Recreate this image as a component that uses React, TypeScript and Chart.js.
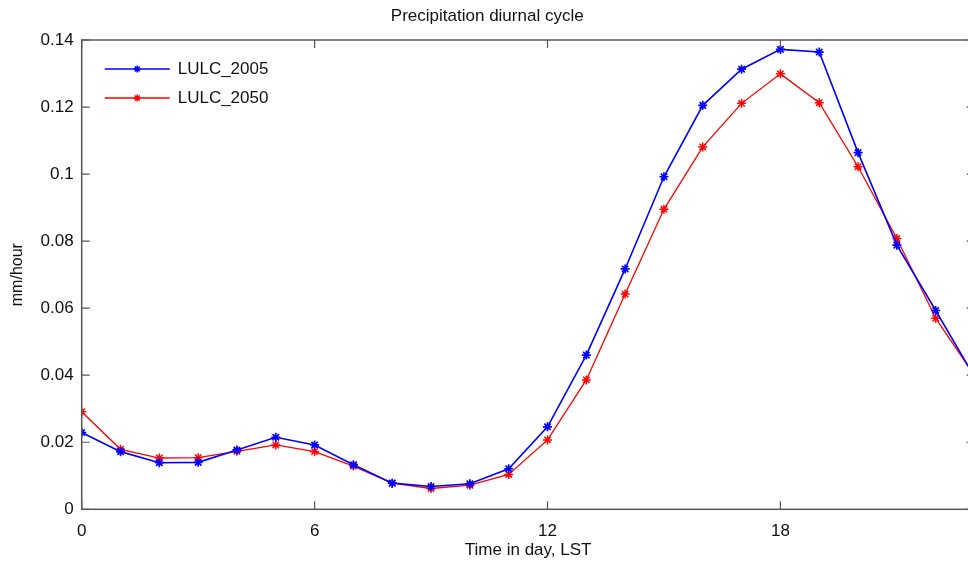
import React, { useEffect, useRef } from "react";
import { Chart, registerables } from "chart.js";

Chart.register(...registerables);

const TITLE = "Precipitation diurnal cycle";
const X_TITLE = "Time in day, LST";
const Y_TITLE = "mm/hour";
const HOURS = [0, 1, 2, 3, 4, 5, 6, 7, 8, 9, 10, 11, 12, 13, 14, 15, 16, 17, 18, 19, 20, 21, 22, 23];
const LULC_2005 = [0.0229, 0.0172, 0.0139, 0.014, 0.0177, 0.0215, 0.0192, 0.0133, 0.0078, 0.0068, 0.0076, 0.0121, 0.0246, 0.046, 0.0717, 0.0992, 0.1205, 0.1313, 0.1372, 0.1364, 0.1064, 0.0788, 0.0593, 0.0395];
const LULC_2050 = [0.0291, 0.0179, 0.0153, 0.0154, 0.0173, 0.0192, 0.0172, 0.0129, 0.0078, 0.0062, 0.0072, 0.0104, 0.0207, 0.0386, 0.0642, 0.0895, 0.1081, 0.1211, 0.1299, 0.1213, 0.1022, 0.0808, 0.057, 0.0399];
const X_TICKS = [0, 6, 12, 18];
const Y_TICKS = [0, 0.02, 0.04, 0.06, 0.08, 0.1, 0.12, 0.14];
const SERIES_NAMES = ["LULC_2005", "LULC_2050"];

const FONT = "'Liberation Sans', Arial, Helvetica, sans-serif";
const AXIS_COLOR = "#555555";

const boxPlugin = {
  id: "matlabBox",
  afterDraw(chart: any) {
    const { ctx, chartArea } = chart;
    const { left, right, top, bottom } = chartArea;
    const xs = chart.scales.x;
    const ys = chart.scales.y;
    ctx.save();
    ctx.strokeStyle = AXIS_COLOR;
    ctx.lineWidth = 1.5;
    ctx.strokeRect(left, top, right - left, bottom - top);
    ctx.lineWidth = 1.2;
    const tl = 8;
    ctx.beginPath();
    X_TICKS.forEach((v) => {
      const px = xs.getPixelForValue(v);
      ctx.moveTo(px, bottom);
      ctx.lineTo(px, bottom - tl);
      ctx.moveTo(px, top);
      ctx.lineTo(px, top + tl);
    });
    Y_TICKS.forEach((v) => {
      const py = ys.getPixelForValue(v);
      ctx.moveTo(left, py);
      ctx.lineTo(left + tl, py);
      ctx.moveTo(right, py);
      ctx.lineTo(right - tl, py);
    });
    ctx.stroke();

    // legend
    const ds = chart.data.datasets;
    const lx0 = left + 23;
    const lx1 = left + 88;
    const rows = [top + 29, top + 58];
    ds.forEach((d: any, i: number) => {
      const y = rows[i];
      ctx.strokeStyle = d.borderColor;
      ctx.lineWidth = d.borderWidth;
      ctx.beginPath();
      ctx.moveTo(lx0, y);
      ctx.lineTo(lx1, y);
      ctx.stroke();
      const cx = (lx0 + lx1) / 2;
      const r = 3.5;
      ctx.beginPath();
      for (let k = 0; k < 4; k++) {
        const a = (k * Math.PI) / 4;
        ctx.moveTo(cx - r * Math.cos(a), y - r * Math.sin(a));
        ctx.lineTo(cx + r * Math.cos(a), y + r * Math.sin(a));
      }
      ctx.lineWidth = 1.5;
      ctx.stroke();
      ctx.fillStyle = "#111111";
      ctx.font = `17px ${FONT}`;
      ctx.textAlign = "left";
      ctx.textBaseline = "middle";
      ctx.fillText(SERIES_NAMES[i], lx1 + 8, y);
    });
    ctx.restore();
  },
};

export default function App() {
  const ref = useRef<HTMLCanvasElement | null>(null);
  useEffect(() => {
    if (!ref.current) return;
    const chart = new Chart(ref.current, {
      type: "line",
      data: {
        datasets: [
          {
            label: SERIES_NAMES[0],
            data: HOURS.map((h, i) => ({ x: h, y: LULC_2005[i] })),
            borderColor: "#0000ff",
            backgroundColor: "#0000ff",
            borderWidth: 1.6,
            pointStyle: "star",
            pointRadius: 4.5,
            pointBorderWidth: 1.7,
            pointBorderColor: "#0000ff",
            tension: 0,
          },
          {
            label: SERIES_NAMES[1],
            data: HOURS.map((h, i) => ({ x: h, y: LULC_2050[i] })),
            borderColor: "#ff0000",
            backgroundColor: "#ff0000",
            borderWidth: 1.3,
            pointStyle: "star",
            pointRadius: 4.5,
            pointBorderWidth: 1.5,
            pointBorderColor: "#ff0000",
            tension: 0,
          },
        ],
      },
      options: {
        animation: false,
        responsive: true,
        maintainAspectRatio: false,
        layout: { padding: { left: 0, right: 15.5, top: 0, bottom: 0 } },
        plugins: {
          legend: { display: false },
          tooltip: { enabled: false },
          title: {
            display: true,
            text: TITLE,
            color: "#111111",
            font: { family: "'Liberation Sans Narrow', " + FONT, size: 17, weight: "normal" },
            padding: { top: 6, bottom: 13.6 },
          },
        },
        scales: {
          x: {
            type: "linear",
            min: 0,
            max: 23,
            afterBuildTicks: (s: any) => {
              s.ticks = X_TICKS.map((v) => ({ value: v }));
            },
            afterFit: (s: any) => {
              s.height = 67.7;
            },
            grid: { display: false, drawTicks: false },
            border: { display: false },
            ticks: {
              color: "#111111",
              font: { family: FONT, size: 17 },
              padding: 12,
              maxRotation: 0,
              autoSkip: false,
            },
            title: {
              display: true,
              text: X_TITLE,
              color: "#111111",
              font: { family: FONT, size: 17 },
              padding: { top: 0, bottom: 16 },
            },
          },
          y: {
            type: "linear",
            min: 0,
            max: 0.14,
            afterBuildTicks: (s: any) => {
              s.ticks = Y_TICKS.map((v) => ({ value: v }));
            },
            afterFit: (s: any) => {
              s.width = 81.7;
            },
            grid: { display: false, drawTicks: false },
            border: { display: false },
            ticks: {
              color: "#111111",
              font: { family: FONT, size: 17 },
              padding: 8,
              callback: (v: any) => String(+Number(v).toFixed(2)),
            },
            title: {
              display: true,
              text: Y_TITLE,
              color: "#111111",
              font: { family: FONT, size: 16 },
              padding: { top: 8.4, bottom: 0 },
            },
          },
        },
      },
      plugins: [boxPlugin],
    } as any);
    return () => chart.destroy();
  }, []);
  return (
    <div style={{ position: "fixed", left: 0, top: 0, width: 990, height: 577, background: "#ffffff" }}>
      <canvas ref={ref} />
    </div>
  );
}
